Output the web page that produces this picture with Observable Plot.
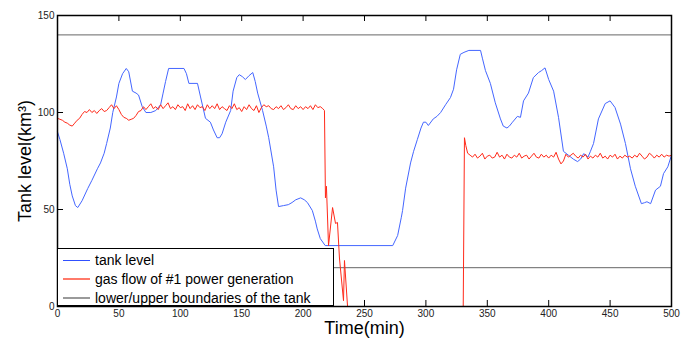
<!DOCTYPE html>
<html>
<head>
<meta charset="utf-8">
<script src="https://cdn.jsdelivr.net/npm/d3@7"></script>
<script src="https://cdn.jsdelivr.net/npm/@observablehq/plot@0.6"></script>
<style>
  html, body { margin: 0; padding: 0; background: #fff; }
  #wrap { position: relative; width: 684px; height: 338px; font-family: "Liberation Sans", Arial, sans-serif; }
  #legend { position: absolute; left: 57px; top: 248px; width: 277px; height: 58px; box-sizing: border-box;
            background: #fff; border: 1.5px solid #000; }
  .row { position: absolute; left: 5px; height: 18px; line-height: 18px; font-size: 14px; color: #000; white-space: nowrap; }
  .sw { display: inline-block; width: 27px; height: 0; vertical-align: middle; margin-right: 5px; position: relative; top: -1px; }
</style>
</head>
<body>
<div id="wrap"></div>
<script>
// ---- data ----
const xTicks = [0, 50, 100, 150, 200, 250, 300, 350, 400, 450, 500];
const yTicks = [0, 50, 100, 150];
const boundaries = [20, 140];
const seriesNames = ["tank level", "gas flow of #1 power generation", "lower/upper boundaries of the tank"];

const tankTime = [0,2,5,8,10,12,14.6,16.5,20,24.6,28,32.5,35,38,40,43,45,48,50,53,56,58,61,64,66,69,72,76,80,84,86,88,90.5,103,105,107,114,116.5,120.5,124.5,127,130,132,134,137,141,143,146,148,150.5,153,156,159,161,163,167,170,172,176,178,180,184,188,191,194,198,201,203.5,207.5,210,211.5,214,218,273,277,280,281,283.5,287.5,290,293,296,298,300,302,306,309,312,316,320,322.5,325,328,331,335,344.5,346,348.5,352.5,356.5,360.7,363,366,368,370.5,374.5,377,379.5,383.5,387.5,391.7,394,397,400,404,408,412,416,420,423.5,426,428.5,432,434,436.5,440.5,446,450,454,458.5,462.5,466.6,470.5,475.5,478,480,483,487,491,493.5,497,500];
const tankLevel = [90,86,79,71,63,57,52,51,54.5,60.8,65,71,74,79,84,92,100,108,115,120,122.7,121,111,110,109,103,100,100,101,104,110,116,122.7,122.7,120,115,115,108,97,95,91,87,87,89,95,101,111,118,119.5,118.5,117,119,120.6,116,110,101,93,87,72,60,51.5,52,52.5,53.6,55,56,55,53.6,49.5,44,40,35,31.4,31.4,36.6,46,49.5,61,74,80,86,92,95,95,93.3,96.7,98,100,104,107.7,112,122,130,131,132,132,128,121.6,115,105,96.7,93,92,93,95,98,97.5,106,110,118,120.6,121.5,123,117,111,97.5,80,78,76,74.7,76,78.8,77,80,84,96.7,104.6,106,102.6,94,84,71,62,53,53.5,54,53,60,62,68.5,72,78];

const gasTime = [0,2,4,6,8,10,12,14,16,18,20,22,24,26,28,30,32,34,36,38,40,42,44,46,48,50,52,54,56,58,60,62,64,66,68,70,72,74,76,78,80,82,84,86,88,90,92,94,96,98,100,102,104,106,108,110,112,114,116,118,120,122,124,126,128,130,132,134,136,138,140,142,144,146,148,150,152,154,156,158,160,162,164,166,168,170,172,174,176,178,180,182,184,186,188,190,192,194,196,198,200,202,204,206,208,210,212,214,216,
  217.4,218.2,219,220.7,224,226.4,228,229.6,232.9,233.7,236.2,330.4,331.4,332.5,334,
  336,338,340,342,344,346,348,350,352,354,356,358,360,362,364,366,368,370,372,374,376,378,380,382,384,386,388,390,392,394,396,398,400,402,404,406,408,410,412,414,416,418,420,422,424,426,428,430,432,434,436,438,440,442,444,446,448,450,452,454,456,458,460,462,464,466,468,470,472,474,476,478,480,482,484,486,488,490,492,494,496,498,500];
const gasFlow = [97,96.5,96,95,94.5,93.5,93,94.5,96,97,99,100.5,100,101.5,100,101,99.5,101,102,100.5,101,102.5,104,102,103.5,101.5,99,97.5,97,96,96.5,97,98.5,100.5,101,103,101.5,103,104.5,102,103,101.5,104,102,103.5,105,102,103,101.5,104,102.5,103,101,104.5,102,103.5,101.5,104,102.5,103,101,104,102,103.5,102,104.5,101.5,103,102,101,103.5,102,104.5,101.5,102.5,100.5,103,101.5,104,102,101,103.5,100,102.5,104,103,103.5,102,101.5,103,102,103.5,101.5,102.5,104,102,101.5,103.5,102,103,101.5,103,102,103.5,101.5,104,102.5,103,102,
  101,56,62,31.4,51,42.8,43.3,25,3,23.7,0,0,87,83,79,
  78,77,78.5,76.5,77.5,79,76,77.5,78,76.5,77,79.5,77,78,76,78.5,77,76.5,78,77,79,76.5,77.5,78,76,77.5,79,77,76.5,78.5,77,78,76.5,78,77,79.5,76,73.5,75,78.5,77,78,79,77.5,76.5,78,77,78.5,76,77.5,76.5,78,77,79,76.5,77.5,76,78,77,78.5,76,77.5,76.5,78,77,77.5,76.5,78,77,79,77.5,76,77,79,78,76.5,78,77,78.5,77,78,77.5,78];

const colors = {tank: "#4466ff", gas: "#ff2a1a", bound: "#666666"};

const tank = tankTime.map((t, i) => ({t, v: tankLevel[i]}));
const gas = gasTime.map((t, i) => ({t, v: gasFlow[i]}));

const xTickLen = 4.9;  // data units ≈ 6px
const yTickLen = 3.1;

const chart = Plot.plot({
  width: 684,
  height: 338,
  marginLeft: 57,
  marginRight: 13,
  marginTop: 15,
  marginBottom: 32,
  style: {fontFamily: "'Liberation Sans', Arial, sans-serif", background: "#fff"},
  x: {domain: [0, 500]},
  y: {domain: [0, 150]},
  marks: [
    Plot.ruleY(boundaries, {y: d => d, stroke: colors.bound, strokeWidth: 1}),
    Plot.line(tank, {x: "t", y: "v", stroke: colors.tank, strokeWidth: 1}),
    Plot.line(gas, {x: "t", y: "v", stroke: colors.gas, strokeWidth: 1}),
    Plot.ruleX(xTicks, {x: d => d, y1: 0, y2: yTickLen, stroke: "#000"}),
    Plot.ruleX(xTicks, {x: d => d, y1: 150 - yTickLen, y2: 150, stroke: "#000"}),
    Plot.ruleY(yTicks, {y: d => d, x1: 0, x2: xTickLen, stroke: "#000"}),
    Plot.ruleY(yTicks, {y: d => d, x1: 500 - xTickLen, x2: 500, stroke: "#000"}),
    Plot.frame({stroke: "#000", strokeWidth: 1.5}),
    Plot.axisX(xTicks, {tickSize: 0, tickPadding: 3, fontSize: 10, fill: "#222", label: null, anchor: "bottom"}),
    Plot.axisY(yTicks, {tickSize: 0, tickPadding: 3, fontSize: 10, fill: "#222", label: null, anchor: "left"}),
    Plot.text(["Time(min)"], {text: d => d, frameAnchor: "bottom", lineAnchor: "middle", dy: 22, fontSize: 18, fill: "#000"}),
    Plot.text(["Tank level(km³)"], {text: d => d, frameAnchor: "left", textAnchor: "middle", lineAnchor: "middle", dx: -32, rotate: -90, fontSize: 18, fill: "#000"})
  ]
});

const wrap = document.getElementById("wrap");
wrap.appendChild(chart);

const legend = document.createElement("div");
legend.id = "legend";
const swatches = ["#3050ff", "#ff7a6a", "#9a9a9a"];
const tops = [2, 21, 40];
seriesNames.forEach((name, i) => {
  const row = document.createElement("div");
  row.className = "row";
  row.style.top = tops[i] + "px";
  const sw = document.createElement("span");
  sw.className = "sw";
  sw.style.borderTop = (i === 0 ? 1 : 2) + "px solid " + swatches[i];
  row.appendChild(sw);
  row.appendChild(document.createTextNode(name));
  legend.appendChild(row);
});
wrap.appendChild(legend);
</script>
</body>
</html>
